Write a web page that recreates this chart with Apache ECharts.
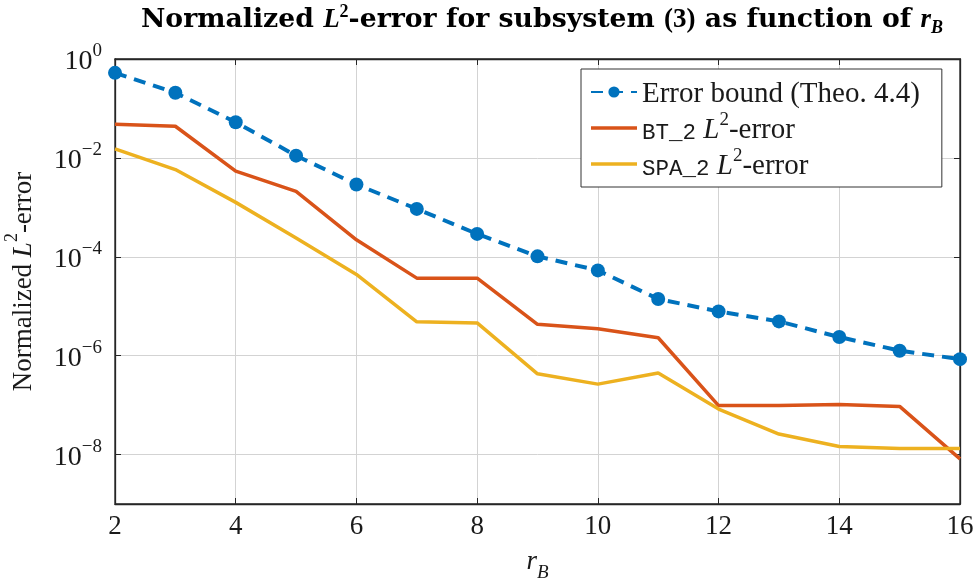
<!DOCTYPE html>
<html lang="en">
<head>
    <meta charset="UTF-8">
    <title>Normalized L2-error</title>
    <script src="https://cdn.jsdelivr.net/npm/echarts@6.0.0/dist/echarts.min.js"></script>
    <style>
        html, body { margin: 0; padding: 0; background: #fff; }
        #main { width: 976px; height: 579px; }
    </style>
</head>
<body>
    <div id="main"></div>
    <script>
        // data
        var rB = [2, 3, 4, 5, 6, 7, 8, 9, 10, 11, 12, 13, 14, 15, 16];
        var errorBound = [0.525, 0.207, 0.0525, 0.0111, 0.0029, 9.3e-4, 2.9e-4, 1.02e-4, 5.3e-5,
                          1.4e-5, 7.85e-6, 4.93e-6, 2.38e-6, 1.26e-6, 8.5e-7];
        var bt2 = [0.048, 0.0436, 5.4e-3, 2.1e-3, 2.2e-4, 3.7e-5, 3.7e-5, 4.3e-6, 3.5e-6,
                   2.3e-6, 9.8e-8, 9.8e-8, 1.03e-7, 9.4e-8, 8.2e-9];
        var spa2 = [0.0152, 5.8e-3, 1.26e-3, 2.4e-4, 4.4e-5, 4.85e-6, 4.6e-6, 4.3e-7, 2.66e-7,
                    4.47e-7, 8.3e-8, 2.6e-8, 1.45e-8, 1.32e-8, 1.32e-8];
        var xTicks = [2, 4, 6, 8, 10, 12, 14, 16];
        var yExponents = [0, -2, -4, -6, -8];

        var serif = '"Liberation Serif", "DejaVu Serif", serif';
        var wideSerif = '"DejaVu Serif", serif';
        var mono = '"Liberation Mono", "DejaVu Sans Mono", monospace';
        var ink = '#1a1a1a';

        function pairs(ys) {
            return rB.map(function (x, i) { return [x, ys[i]]; });
        }

        var legendNames = {
            bound: '{t|Error bound (Theo. 4.4)}',
            bt: '{m|BT_2} {i|L}{s|2}{t|-error}',
            spa: '{m|SPA_2} {i|L}{s|2}{t|-error}'
        };
        var lineIcon = 'path://M0,0L46,0L46,3.5L0,3.5Z';

        var chart = echarts.init(document.getElementById('main'));

        var option = {
            backgroundColor: '#ffffff',
            animation: false,
            title: {
                text: '{b|Normalized }{bi|L}{sup|2}{b|-error for subsystem }{n|(3)}{b| as function of }{i|r}{sub|B}',
                left: 537,
                textAlign: 'center',
                top: -2,
                textStyle: {
                    rich: {
                        b: { fontFamily: wideSerif, fontWeight: 'bold', fontSize: 26.7, color: '#000', lineHeight: 34, verticalAlign: 'middle' },
                        bi: { fontFamily: serif, fontStyle: 'italic', fontSize: 27, color: '#000', lineHeight: 34, verticalAlign: 'middle' },
                        n: { fontFamily: serif, fontSize: 27, color: '#000', lineHeight: 34, verticalAlign: 'middle' },
                        i: { fontFamily: serif, fontStyle: 'italic', fontSize: 27, color: '#000', lineHeight: 34, verticalAlign: 'middle' },
                        sup: { fontFamily: serif, fontSize: 18, color: '#000', lineHeight: 18, verticalAlign: 'top' },
                        sub: { fontFamily: serif, fontStyle: 'italic', fontSize: 18, color: '#000', lineHeight: 18, verticalAlign: 'bottom' }
                    }
                }
            },
            legend: {
                left: 581,
                top: 69,
                orient: 'vertical',
                backgroundColor: '#fff',
                borderColor: '#333',
                borderWidth: 1,
                padding: [11, 22, 6, 9],
                itemWidth: 46,
                itemHeight: 14,
                itemGap: 2,
                data: [
                    { name: 'bound' },
                    { name: 'bt', icon: lineIcon },
                    { name: 'spa', icon: lineIcon }
                ],
                formatter: function (name) { return legendNames[name]; },
                textStyle: {
                    fontFamily: serif,
                    fontSize: 29,
                    color: ink,
                    rich: {
                        t: { fontFamily: serif, fontSize: 29, color: ink, lineHeight: 34, verticalAlign: 'bottom' },
                        i: { fontFamily: serif, fontStyle: 'italic', fontSize: 29, color: ink, lineHeight: 34, verticalAlign: 'bottom' },
                        m: { fontFamily: mono, fontSize: 22.5, color: ink, lineHeight: 29, verticalAlign: 'bottom' },
                        s: { fontFamily: serif, fontSize: 19, color: ink, lineHeight: 19, verticalAlign: 'top' }
                    }
                }
            },
            grid: {
                left: 115,
                right: 16,
                top: 59,
                bottom: 75,
                containLabel: false,
                outerBoundsMode: 'none',
                show: true,
                borderColor: '#262626',
                borderWidth: 1.3
            },
            xAxis: [{
                type: 'value',
                min: 2,
                max: 16,
                interval: 2,
                name: '{i|r}{sub|B}',
                nameLocation: 'middle',
                nameGap: 44,
                nameTextStyle: {
                    rich: {
                        i: { fontFamily: serif, fontStyle: 'italic', fontSize: 27, color: ink, lineHeight: 34, verticalAlign: 'top' },
                        sub: { fontFamily: serif, fontStyle: 'italic', fontSize: 19, color: ink, lineHeight: 19, verticalAlign: 'bottom' }
                    }
                },
                axisLine: { show: true, lineStyle: { color: '#262626', width: 1.3 } },
                axisTick: { show: true, inside: true, length: 6, lineStyle: { color: '#262626' } },
                axisLabel: {
                    margin: 9,
                    fontFamily: serif,
                    fontSize: 27,
                    color: ink,
                    formatter: function (v) { return xTicks.indexOf(v) >= 0 ? String(v) : ''; }
                },
                splitLine: { show: true, lineStyle: { color: '#d3d3d3', width: 1 } }
            }, {
                type: 'value',
                position: 'top',
                min: 2,
                max: 16,
                interval: 2,
                axisLine: { show: true, lineStyle: { color: '#262626', width: 1.3 } },
                axisTick: { show: true, inside: true, length: 6, lineStyle: { color: '#262626' } },
                axisLabel: { show: false },
                splitLine: { show: false }
            }],
            yAxis: [{
                type: 'log',
                logBase: 100,
                min: 1e-9,
                max: 1,
                name: '{t|Normalized }{i|L}{s|2}{t|-error}',
                nameLocation: 'middle',
                nameRotate: 90,
                nameGap: 78,
                nameTextStyle: {
                    rich: {
                        t: { fontFamily: serif, fontSize: 27, color: ink, lineHeight: 34, verticalAlign: 'bottom' },
                        i: { fontFamily: serif, fontStyle: 'italic', fontSize: 27, color: ink, lineHeight: 34, verticalAlign: 'bottom' },
                        s: { fontFamily: serif, fontSize: 18, color: ink, lineHeight: 18, verticalAlign: 'top' }
                    }
                },
                axisLine: { show: true, lineStyle: { color: '#262626', width: 1.3 } },
                axisTick: { show: true, inside: true, length: 6, lineStyle: { color: '#262626' } },
                axisLabel: {
                    margin: 13,
                    rich: {
                        b: { fontFamily: serif, fontSize: 28, color: ink, lineHeight: 34, verticalAlign: 'bottom' },
                        s: { fontFamily: serif, fontSize: 19, color: ink, lineHeight: 19, verticalAlign: 'top' }
                    },
                    formatter: function (v) {
                        var e = Math.round(Math.log(v) / Math.LN10);
                        if (yExponents.indexOf(e) < 0) return '';
                        return '{b|10}{s|' + (e < 0 ? '\u2212' + (-e) : e) + '}';
                    }
                },
                splitLine: { show: true, lineStyle: { color: '#d3d3d3', width: 1 } }
            }, {
                type: 'log',
                logBase: 100,
                min: 1e-9,
                max: 1,
                position: 'right',
                axisLine: { show: true, lineStyle: { color: '#262626', width: 1.3 } },
                axisTick: { show: true, inside: true, length: 6, lineStyle: { color: '#262626' } },
                axisLabel: { show: false },
                splitLine: { show: false }
            }],
            series: [{
                name: 'bound',
                type: 'line',
                data: pairs(errorBound),
                symbol: 'circle',
                symbolSize: 14,
                itemStyle: { color: '#0072BD' },
                lineStyle: { color: '#0072BD', width: 4, type: [12, 8] },
                z: 3
            }, {
                name: 'bt',
                type: 'line',
                data: pairs(bt2),
                showSymbol: false,
                symbol: 'none',
                itemStyle: { color: '#D95319' },
                lineStyle: { color: '#D95319', width: 3.5 }
            }, {
                name: 'spa',
                type: 'line',
                data: pairs(spa2),
                showSymbol: false,
                symbol: 'none',
                itemStyle: { color: '#EDB120' },
                lineStyle: { color: '#EDB120', width: 3.5 }
            }]
        };

        chart.setOption(option);
    </script>
</body>
</html>
